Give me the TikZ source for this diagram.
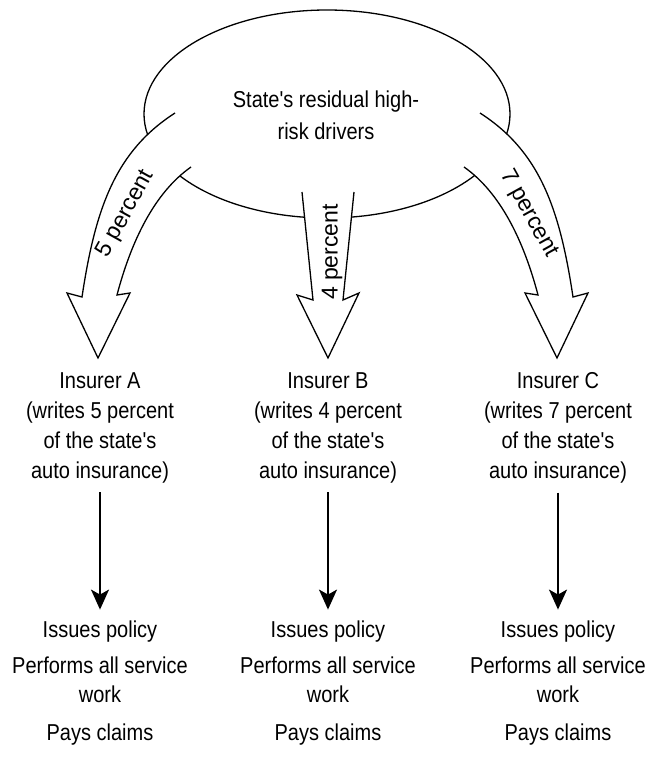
\documentclass[tikz,border=0pt]{standalone}
\usepackage{fontspec}
\setmainfont{Liberation Sans}
\newfontfamily\bodyfont{Liberation Sans}[FakeStretch=0.87]
\usetikzlibrary{arrows.meta,shapes.geometric}
\begin{document}
\begin{tikzpicture}[x=1pt,y=-1pt,
  outline/.style={line width=1.3pt, black, line join=miter},
  txt/.style={font=\bodyfont\fontsize{23}{30}\selectfont, align=center, inner sep=0pt},
  acttxt/.style={font=\bodyfont\fontsize{23}{29}\selectfont, align=center, inner sep=0pt},
  lbl/.style={font=\fontsize{23}{26}\selectfont, inner sep=0pt},
  downarrow/.style={line width=2pt, -{Stealth[length=20pt,width=18pt,inset=5pt]}, shorten <=9pt, shorten >=11pt}]
\useasboundingbox (0,0) rectangle (648,760);

% pool of drivers
\node[ellipse, draw, outline, minimum width=366pt, minimum height=208pt, inner sep=0pt] (pool) at (327,114) {};
\node[font=\bodyfont\fontsize{23}{32}\selectfont, align=center, inner sep=0pt] (pooltxt) at (326,115.5)
  {State's residual high-\\risk drivers};

% left wide arrow
\fill[white] (175,113) .. controls (116,151) and (95.5,207) .. (82,297) -- (67,293) -- (98,358)
  -- (130,293) -- (117,295) .. controls (131,242) and (154,193) .. (191,167) -- cycle;
\draw[outline] (175,113) .. controls (116,151) and (95.5,207) .. (82,297) -- (67,293) -- (98,358)
  -- (130,293) -- (117,295) .. controls (131,242) and (154,193) .. (191,167);

% middle wide arrow
\fill[white] (302,192) -- (313,300) -- (297,295) -- (328,358) -- (359,293) -- (343,300) -- (354,192) -- cycle;
\draw[outline] (302,192) -- (313,300) -- (297,295) -- (328,358) -- (359,293) -- (343,300) -- (354,192);

% right wide arrow
\fill[white] (480,113) .. controls (539,151) and (559.5,207) .. (573,297) -- (588,293) -- (557,358)
  -- (525,293) -- (538,295) .. controls (524,242) and (501,193) .. (464,167) -- cycle;
\draw[outline] (480,113) .. controls (539,151) and (559.5,207) .. (573,297) -- (588,293) -- (557,358)
  -- (525,293) -- (538,295) .. controls (524,242) and (501,193) .. (464,167);

% arrow labels
\node[lbl, rotate=61] (pctA) at (126,214) {5 percent};
\node[lbl, rotate=90] (pctB) at (332,252) {4 percent};
\node[lbl, rotate=-61] (pctC) at (529,214) {7 percent};

% insurers
\node[txt] (insA) at (100,428) {Insurer A\\(writes 5 percent\\of the state's\\auto insurance)};
\node[txt] (insB) at (328,428) {Insurer B\\(writes 4 percent\\of the state's\\auto insurance)};
\node[txt] (insC) at (558,428) {Insurer C\\(writes 7 percent\\of the state's\\auto insurance)};

% activities
\node[acttxt] (actA) at (100,683) {Issues policy\\[7pt]Performs all service\\work\\[9pt]Pays claims};
\node[acttxt] (actB) at (328,683) {Issues policy\\[7pt]Performs all service\\work\\[9pt]Pays claims};
\node[acttxt] (actC) at (558,683) {Issues policy\\[7pt]Performs all service\\work\\[9pt]Pays claims};

\draw[downarrow] (insA) -- (actA);
\draw[downarrow] (insB) -- (actB);
\draw[downarrow] (insC) -- (actC);
\end{tikzpicture}
\end{document}
